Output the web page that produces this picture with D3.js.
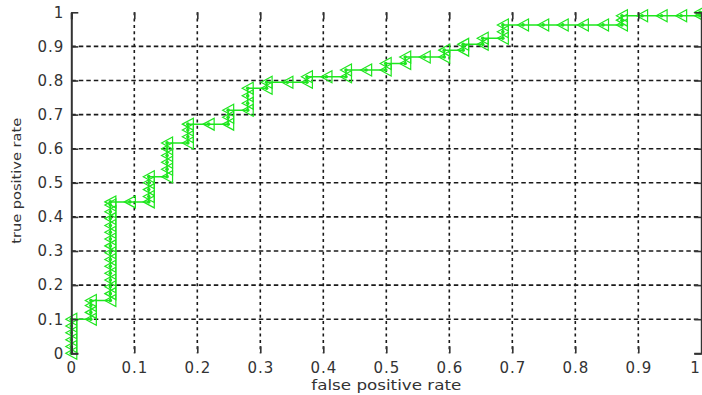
<!DOCTYPE html>
<html>
<head>
<meta charset="utf-8">
<script src="https://cdn.jsdelivr.net/npm/d3@7"></script>
<style>
  html, body { margin: 0; padding: 0; background: #fff; }
  svg { display: block; }
</style>
</head>
<body>
<script>
// ---- data ----
const fpr = [
  0,0,0,0,0,0,
  0.031,0.031,0.031,0.031,
  0.062,0.062,0.062,0.062,0.062,0.062,0.062,0.062,0.062,0.062,0.062,0.062,0.062,0.062,0.062,0.062,
  0.093,
  0.123,0.123,0.123,0.123,0.123,
  0.152,0.152,0.152,0.152,0.152,0.152,
  0.185,0.185,0.185,0.185,
  0.218,
  0.249,0.249,0.249,
  0.28,0.28,0.28,0.28,
  0.31,0.31,
  0.343,
  0.374,0.374,
  0.405,
  0.436,0.436,
  0.468,
  0.499,0.499,
  0.53,0.53,
  0.561,
  0.592,0.592,
  0.622,0.622,
  0.653,0.653,
  0.685,0.685,0.685,
  0.717,0.749,0.78,0.812,0.844,
  0.874,0.874,0.874,
  0.906,0.937,0.968,
  0.998,0.998
];
const tpr = [
  0,0.02,0.04,0.06,0.08,0.10,
  0.10,0.12,0.14,0.155,
  0.155,0.175,0.195,0.215,0.235,0.255,0.275,0.295,0.315,0.335,0.355,0.375,0.395,0.415,0.435,0.444,
  0.444,
  0.444,0.46,0.48,0.50,0.518,
  0.518,0.54,0.56,0.58,0.60,0.617,
  0.617,0.635,0.655,0.672,
  0.672,
  0.672,0.692,0.713,
  0.713,0.733,0.755,0.777,
  0.777,0.795,
  0.795,
  0.795,0.811,
  0.811,
  0.811,0.831,
  0.831,
  0.831,0.85,
  0.85,0.869,
  0.869,
  0.869,0.889,
  0.889,0.906,
  0.906,0.924,
  0.924,0.943,0.963,
  0.963,0.963,0.963,0.963,0.963,
  0.963,0.977,0.99,
  0.99,0.99,0.99,
  0.99,1.0
];
const xTicks = [0,0.1,0.2,0.3,0.4,0.5,0.6,0.7,0.8,0.9,1];
const yTicks = [0,0.1,0.2,0.3,0.4,0.5,0.6,0.7,0.8,0.9,1];
const xTickLabels = ["0","0.1","0.2","0.3","0.4","0.5","0.6","0.7","0.8","0.9","1"];
const yTickLabels = ["0","0.1","0.2","0.3","0.4","0.5","0.6","0.7","0.8","0.9","1"];
const xLabel = "false positive rate";
const yLabel = "true positive rate";

// ---- layout ----
const W = 702, H = 395;
const L = 71.3, R = 701.3, T = 12.3, B = 353.3;
const green = "#1ee61e";

const svg = d3.select("body").append("svg").attr("width", W).attr("height", H);
const x = d3.scaleLinear().domain([0,1]).range([L,R]);
const y = d3.scaleLinear().domain([0,1]).range([B,T]);

// grid
const grid = svg.append("g");
grid.selectAll("line.v").data(xTicks.slice(1,-1)).join("line")
  .attr("x1", d => x(d)).attr("x2", d => x(d)).attr("y1", T).attr("y2", B)
  .attr("stroke", "#1a1a1a").attr("stroke-width", 1.6).attr("stroke-dasharray", "3,3.3");
grid.selectAll("line.h").data(yTicks.slice(1,-1)).join("line")
  .attr("y1", d => y(d)).attr("y2", d => y(d)).attr("x1", L).attr("x2", R)
  .attr("stroke", "#1a1a1a").attr("stroke-width", 1.6).attr("stroke-dasharray", "4.5,3");

// data
const pts = fpr.map((f,i) => [f, tpr[i]]);
svg.append("path").datum(pts)
  .attr("d", d3.line().x(d => x(d[0])).y(d => y(d[1])))
  .attr("fill", "none").attr("stroke", green).attr("stroke-width", 1.5);
const tw = 11, th = 12;
const tri = `M${-tw/2},0L${tw/2},${-th/2}L${tw/2},${th/2}Z`;
svg.append("g").selectAll("path").data(pts).join("path")
  .attr("transform", d => `translate(${x(d[0])},${y(d[1])})`)
  .attr("d", tri).attr("fill", "none").attr("stroke", green).attr("stroke-width", 1.2);
svg.append("g").selectAll("circle").data(pts).join("circle")
  .attr("cx", d => x(d[0])).attr("cy", d => y(d[1])).attr("r", 1.8).attr("fill", green);

// axes (box with inward ticks)
const xAxisB = d3.axisBottom(x).tickValues(xTicks).tickSize(-7).tickFormat((d,i) => xTickLabels[i]);
const xAxisT = d3.axisTop(x).tickValues(xTicks).tickSize(-7).tickFormat("");
const yAxisL = d3.axisLeft(y).tickValues(yTicks).tickSize(-7).tickFormat((d,i) => yTickLabels[i]);
const yAxisR = d3.axisRight(y).tickValues(yTicks).tickSize(-7).tickFormat("");

function style(g) {
  g.select(".domain").attr("stroke", "#333").attr("stroke-width", 2);
  g.selectAll(".tick line").attr("stroke", "#333").attr("stroke-width", 1.6);
  g.selectAll(".tick text").attr("fill", "#333").attr("font-family", "DejaVu Sans, sans-serif")
    .attr("font-size", 15).attr("letter-spacing", "1px");
}
svg.append("g").attr("transform", `translate(0,${B})`).call(xAxisB).call(style)
  .call(g => g.selectAll(".tick text").attr("dy", null).attr("y", 19.5))
  .call(g => g.selectAll(".tick text").filter(d => d === 1).attr("text-anchor", "end").attr("x", -1));
svg.append("g").attr("transform", `translate(0,${T})`).call(xAxisT).call(style);
svg.append("g").attr("transform", `translate(${L},0)`).call(yAxisL).call(style)
  .call(g => g.selectAll(".tick text").attr("x", -7));
svg.append("g").attr("transform", `translate(${R},0)`).call(yAxisR).call(style);
svg.selectAll(".domain").each(function(){ d3.select(this).attr("d", d3.select(this).attr("d").replace(/V-?7/g,"").replace(/H-?7/g,"")); });

// axis labels
svg.append("text").attr("x", (L+R)/2).attr("y", 390).attr("text-anchor", "middle")
  .attr("font-family", "DejaVu Sans, sans-serif").attr("font-size", 14).attr("fill", "#333")
  .attr("textLength", 150).attr("lengthAdjust", "spacingAndGlyphs").text(xLabel);
svg.append("text").attr("transform", `translate(21,${(T+B)/2 - 2}) rotate(-90)`).attr("text-anchor", "middle")
  .attr("font-family", "DejaVu Sans, sans-serif").attr("font-size", 13).attr("fill", "#333")
  .attr("textLength", 126).attr("lengthAdjust", "spacingAndGlyphs").text(yLabel);
</script>
</body>
</html>
